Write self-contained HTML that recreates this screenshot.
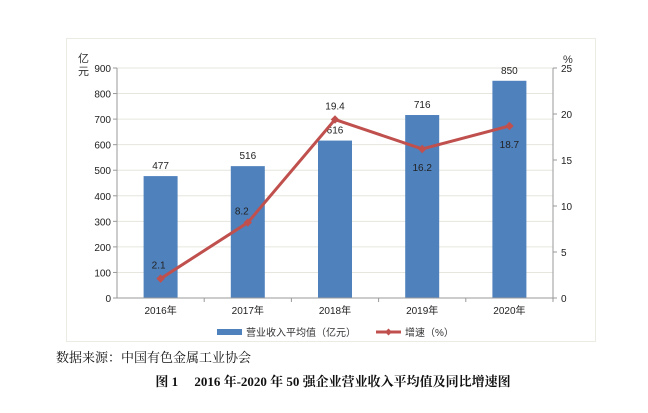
<!DOCTYPE html>
<html><head><meta charset="utf-8"><style>
body{margin:0;background:#fff;width:648px;height:408px;overflow:hidden}
svg text{font-family:"Liberation Sans","Noto Sans CJK SC",sans-serif}
</style></head><body>
<svg width="648" height="408">
<rect x="66.5" y="38.5" width="529" height="303" fill="#fff" stroke="#ebebe4"/>
<g id="grid"></g><g id="bars"></g><g id="line"></g><g id="axes"></g>
<text x="78" y="62" font-size="11" fill="#333">亿</text>
<text x="78" y="75" font-size="11" fill="#333">元</text>
<text x="563" y="63" font-size="11" fill="#333">%</text>
<g>
<rect x="217" y="329" width="25" height="6" fill="#4f81bd"/>
<text x="246" y="336" font-size="10" fill="#333">营业收入平均值（亿元）</text>
<line x1="376" y1="332" x2="401" y2="332" stroke="#c0504d" stroke-width="3"/>
<rect x="386" y="329.5" width="5" height="5" fill="#c0504d" transform="rotate(45 388.5 332)"/>
<text x="405" y="336" font-size="10" fill="#333">增速（%）</text>
</g>
<text x="56" y="362" font-size="13" fill="#111" style="font-family:'Liberation Serif','Noto Serif CJK SC',serif">数据来源：中国有色金属工业协会</text>
<text x="333" y="386" font-size="13" font-weight="bold" text-anchor="middle" fill="#111" style="font-family:'Liberation Serif','Noto Serif CJK SC',serif">图 1　  2016 年-2020 年 50 强企业营业收入平均值及同比增速图</text>
</svg>
<script>
const categories=["2016年","2017年","2018年","2019年","2020年"];
const revenue=[477,516,616,716,850];
const growth=[2.1,8.2,19.4,16.2,18.7];
const leftTicks=[0,100,200,300,400,500,600,700,800,900];
const rightTicks=[0,5,10,15,20,25];
const NS="http://www.w3.org/2000/svg";
const L=117,R=553,T=68,B=298;
const yL=v=>B-(v/900)*(B-T), yR=v=>B-(v/25)*(B-T);
const bw=(R-L)/categories.length, xc=i=>L+bw*(i+0.5);
function mk(t,a,p){const e=document.createElementNS(NS,t);for(const k in a)e.setAttribute(k,a[k]);document.getElementById(p).appendChild(e);return e;}
leftTicks.forEach(v=>{if(v>0){const g=mk('line',{x1:L,x2:R,y1:yL(v),y2:yL(v),stroke:'#e6e6de'},'grid');

}
const t=mk('text',{x:L-6,y:yL(v)+4,'font-size':10,'text-anchor':'end',fill:'#222'},'axes');t.textContent=v;

});
rightTicks.forEach(v=>{const t=mk('text',{x:R+8,y:yR(v)+4,'font-size':10,fill:'#222'},'axes');t.textContent=v;


mk('line',{x1:R,x2:R+4,y1:yR(v),y2:yR(v),stroke:'#999'},'axes');});
mk('line',{x1:L,x2:L,y1:T,y2:B,stroke:'#999'},'axes');
mk('line',{x1:R,x2:R,y1:T,y2:B,stroke:'#999'},'axes');
mk('line',{x1:L-4,x2:R,y1:B,y2:B,stroke:'#999'},'axes');
leftTicks.forEach(v=>mk('line',{x1:L-4,x2:L,y1:yL(v),y2:yL(v),stroke:'#999'},'axes'));
categories.forEach((c,i)=>{
mk('line',{x1:L+bw*(i+1),x2:L+bw*(i+1),y1:B,y2:B+4,stroke:'#999'},'axes');
const r=mk('rect',{x:xc(i)-17,y:yL(revenue[i]),width:34,height:B-yL(revenue[i]),fill:'#4f81bd'},'bars');


const t=mk('text',{x:xc(i),y:yL(revenue[i])-7,'font-size':10,'text-anchor':'middle',fill:'#222'},'bars');t.textContent=revenue[i];


const xl=mk('text',{x:xc(i),y:B+16,'font-size':10,'text-anchor':'middle',fill:'#222'},'axes');xl.textContent=c;


});
const pts=growth.map((g,i)=>xc(i)+','+yR(g)).join(' ');
const pl=mk('polyline',{points:pts,fill:'none',stroke:'#c0504d','stroke-width':3},'line');


const off=[[-2,-10],[-6,-8],[0,-10],[0,22],[0,22]];
growth.forEach((g,i)=>{const c=mk('rect',{x:xc(i)-3,y:yR(g)-3,width:6,height:6,fill:'#c0504d',transform:'rotate(45 '+xc(i)+' '+yR(g)+')'},'line');


const t=mk('text',{x:xc(i)+off[i][0],y:yR(g)+off[i][1],'font-size':10,'text-anchor':'middle',fill:'#222'},'line');t.textContent=g.toFixed(1);

});
</script>
</body></html>
